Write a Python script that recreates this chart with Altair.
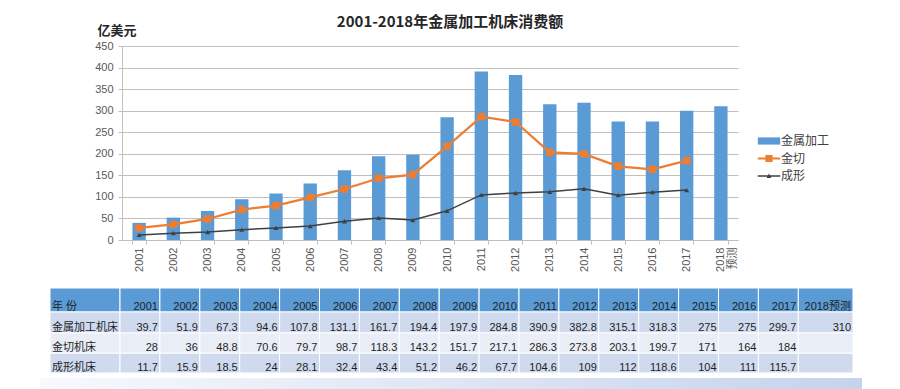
import altair as alt
import pandas as pd

# ---------------- data ----------------
years = ["2001", "2002", "2003", "2004", "2005", "2006", "2007", "2008", "2009",
         "2010", "2011", "2012", "2013", "2014", "2015", "2016", "2017", "2018预测"]
metal = [39.7, 51.9, 67.3, 94.6, 107.8, 131.1, 161.7, 194.4, 197.9,
         284.8, 390.9, 382.8, 315.1, 318.3, 275, 275, 299.7, 310]
cutting = [28, 36, 48.8, 70.6, 79.7, 98.7, 118.3, 143.2, 151.7,
           217.1, 286.3, 273.8, 203.1, 199.7, 171, 164, 184]
forming = [11.7, 15.9, 18.5, 24, 28.1, 32.4, 43.4, 51.2, 46.2,
           67.7, 104.6, 109, 112, 118.6, 104, 111, 115.7]
series_names = ["金属加工", "金切", "成形"]
row_labels = ["金属加工机床", "金切机床", "成形机床"]
header_label = "年  份"
title_text = "2001-2018年金属加工机床消费额"
y_title = "亿美元"

# ---------------- styles ----------------
BLUE, ORANGE, DARK = "#5b9bd5", "#ed7d31", "#404040"
GRID = "#bfbfbf"
CJK = "Noto Sans CJK SC"
LAT = "'Liberation Sans', 'Noto Sans CJK SC'"

df_bar = pd.DataFrame({"year": years, "value": metal, "series": series_names[0]})
df_cut = pd.DataFrame({"year": years[:len(cutting)], "value": cutting, "series": series_names[1]})
df_form = pd.DataFrame({"year": years[:len(forming)], "value": forming, "series": series_names[2]})

color_scale = alt.Scale(domain=series_names, range=[BLUE, ORANGE, DARK])

x_enc = alt.X("year:N", sort=years,
              scale=alt.Scale(domain=years, paddingInner=0.61, paddingOuter=0.305),
              axis=alt.Axis(title=None, labelAngle=-90, tickBand="extent", tickSize=4,
                            tickColor=GRID, domainColor=GRID, labelFont=LAT, labelFontSize=11,
                            labelColor="#595959", labelPadding=3, labelLineHeight=12,
                            labelExpr="datum.value == '2018预测' ? ['2018', '预测'] : datum.value"))
y_enc = alt.Y("value:Q",
              scale=alt.Scale(domain=[0, 450], nice=False),
              axis=alt.Axis(values=list(range(0, 451, 50)), title=y_title, titleAngle=0,
                            titleX=-25, titleY=-16, titleAlign="left", titleBaseline="middle",
                            titleFont=CJK, titleFontSize=13, titleFontWeight="bold",
                            titleColor="#262626", labelFont=LAT, labelFontSize=11,
                            labelColor="#595959", tickSize=4, tickColor=GRID,
                            domainColor=GRID, gridColor=GRID, labelPadding=5))

bars = alt.Chart(df_bar).mark_bar(color=BLUE).encode(x=x_enc, y=y_enc)
line_cut = alt.Chart(df_cut).mark_line(strokeWidth=2.25, color=ORANGE).encode(x=x_enc, y=y_enc)
pts_cut = alt.Chart(df_cut).mark_point(shape="square", filled=True, size=56, opacity=1,
                                       color=ORANGE).encode(x=x_enc, y=y_enc)
line_form = alt.Chart(df_form).mark_line(strokeWidth=1.5, color=DARK).encode(x=x_enc, y=y_enc)
pts_form = alt.Chart(df_form).mark_point(shape="triangle-up", filled=True, size=25, opacity=1,
                                         color=DARK).encode(x=x_enc, y=y_enc)

legend_paths = [
    "M-1.4,-0.45H1.4V0.45H-1.4Z",
    "M-1.4,-0.12H1.4V0.12H-1.4Z M-0.45,-0.45H0.45V0.45H-0.45Z",
    "M-1.4,-0.08H1.4V0.08H-1.4Z M-0.3,0.25L0,-0.3L0.3,0.25Z",
]
leg = alt.Legend(orient="none", legendX=639, legendY=87, title=None, symbolSize=256,
                 symbolStrokeWidth=0, symbolOpacity=1, labelFont=CJK, labelFontSize=12,
                 labelColor="#404040", labelOffset=4, rowPadding=3.5)
legend_layer = alt.Chart(pd.DataFrame({"series": series_names})).transform_filter("false").mark_point(
    filled=True, opacity=1, size=256).encode(
    color=alt.Color("series:N", scale=color_scale, legend=leg),
    shape=alt.Shape("series:N", scale=alt.Scale(domain=series_names, range=legend_paths), legend=leg))

main = alt.layer(bars, line_cut, line_form, pts_cut, pts_form, legend_layer)

# ---------------- table ----------------
LABEL_W, COL_W, TABLE_W = 70, 39.9, 803
ROW_EDGES = [0, 24, 45, 65, 85]
col_edges = [(0, LABEL_W)] + [(LABEL_W + j * COL_W, LABEL_W + (j + 1) * COL_W) for j in range(len(years) - 1)] \
    + [(LABEL_W + (len(years) - 1) * COL_W, TABLE_W)]

row_values = [metal, cutting, forming]
cells, texts = [], []
for r in range(4):
    y0, y1 = ROW_EDGES[r], ROW_EDGES[r + 1]
    kind = "h" if r == 0 else ("a" if r % 2 == 1 else "b")
    for c, (x0, x1) in enumerate(col_edges):
        cells.append({"x0": x0, "x1": x1, "y0": y0, "y1": y1, "kind": kind})
        if c == 0:
            txt = header_label if r == 0 else row_labels[r - 1]
            texts.append({"x": x0 + 2, "y": y1 - 2, "t": txt, "al": "l"})
        else:
            if r == 0:
                txt = years[c - 1]
            else:
                vals = row_values[r - 1]
                txt = f"{vals[c - 1]:g}" if c - 1 < len(vals) else ""
            if txt:
                texts.append({"x": x1 - 2, "y": y1 - 2, "t": txt, "al": "r"})
df_cells = pd.DataFrame(cells)
df_texts = pd.DataFrame(texts)
df_strip = pd.DataFrame({"x0": [-10], "x1": [812], "y0": [90], "y1": [101]})

tx = alt.Scale(domain=[0, TABLE_W], range=[-72, 731], nice=False, zero=False)
ty = alt.Scale(domain=[0, 85], range=[242, 327], nice=False, zero=False)

def cell_layer(kind, fill):
    return alt.Chart(df_cells).transform_filter(f"datum.kind == '{kind}'").mark_rect(
        fill=fill, stroke="white", strokeWidth=1).encode(
        x=alt.X("x0:Q", scale=tx, axis=None), x2="x1:Q",
        y=alt.Y("y0:Q", scale=ty, axis=None), y2="y1:Q")

cells_h = cell_layer("h", "#5b9bd5")
cells_a = cell_layer("a", "#cfdaee")
cells_b = cell_layer("b", "#e9edf6")

text_l = alt.Chart(df_texts).transform_filter("datum.al == 'l'").mark_text(
    align="left", baseline="alphabetic", font=LAT, fontSize=11, color="#1f1f1f").encode(
    x=alt.X("x:Q", scale=tx, axis=None), y=alt.Y("y:Q", scale=ty, axis=None), text="t:N")
text_r = alt.Chart(df_texts).transform_filter("datum.al == 'r'").mark_text(
    align="right", baseline="alphabetic", font=LAT, fontSize=11, color="#1f1f1f").encode(
    x=alt.X("x:Q", scale=tx, axis=None), y=alt.Y("y:Q", scale=ty, axis=None), text="t:N")

strip = alt.Chart(df_strip).mark_rect(
    color=alt.LinearGradient(gradient="linear",
                             stops=[alt.GradientStop(color="#f7f9fd", offset=0),
                                    alt.GradientStop(color="#c6d3ec", offset=1)],
                             x1=0, x2=1, y1=0, y2=0)).encode(
    x=alt.X("x0:Q", scale=tx, axis=None), x2="x1:Q",
    y=alt.Y("y0:Q", scale=ty, axis=None), y2="y1:Q")

table = alt.layer(cells_h, cells_a, cells_b, text_l, text_r, strip)

chart = alt.layer(main, table).resolve_scale(x="independent", y="independent").properties(
    width=616, height=194,
    autosize=alt.AutoSizeParams(type="none"),
    padding={"left": 114, "top": 38, "right": 154, "bottom": 149},
    title=alt.TitleParams(title_text, font=CJK, fontSize=15, fontWeight="bold", color="#262626",
                          anchor="middle", frame="group", dx=20, dy=10),
    background="white",
).configure_view(stroke=None)

chart.save("out.html", embed_options={"renderer": "svg", "actions": False})
